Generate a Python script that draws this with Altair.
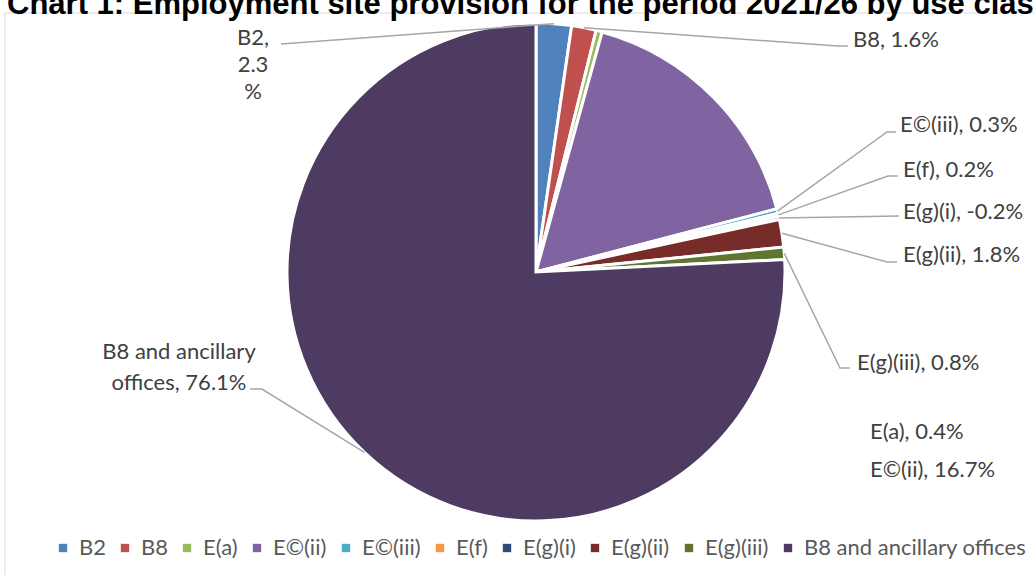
import math
import altair as alt
import pandas as pd

# ---------------- data ----------------
names = ["B2", "B8", "E(a)", "E©(ii)", "E©(iii)", "E(f)", "E(g)(i)",
         "E(g)(ii)", "E(g)(iii)", "B8 and ancillary offices"]
values = [2.3, 1.6, 0.4, 16.7, 0.3, 0.2, -0.2, 1.8, 0.8, 76.1]
colors = ["#4F81BD", "#C0504D", "#9BBB59", "#8064A2", "#4BACC6", "#F79646",
          "#2C4D75", "#772C2A", "#5F7530", "#4D3B62"]
title_text = "Chart 1: Employment site provision for the period 2021/26 by use class"

# ---------------- geometry / style ----------------
CX, CY, R = 536, 272, 249
LABEL_FONT = "Lato"
LABEL_SIZE = 22
LABEL_COLOR = "#404040"

# pie slices (size = absolute value, as the spreadsheet does)
sizes = [abs(v) for v in values]
total = sum(sizes)
starts, ends, c = [], [], 0.0
for s in sizes:
    starts.append(c)
    c += s
    ends.append(c)
pie = pd.DataFrame({"name": names, "value": values, "start": starts, "end": ends,
                    "idx": list(range(len(names)))})

# label placement (annotation layout, pixel positions)
layout = {
    "B2": dict(lines=lambda n, v: [f"{n},", f"{v}", "%"], x=253, y=38, dy=27,
               align="center", path=[(281, 44)]),
    "B8": dict(x=853, y=40, align="left", path=[(838, 46), (848, 46)]),
    "E(a)": dict(x=870, y=432, align="left", path=[]),
    "E©(ii)": dict(x=870, y=470, align="left", path=[]),
    "E©(iii)": dict(x=900, y=125, align="left", path=[(887, 132), (896, 132)]),
    "E(f)": dict(x=903, y=170, align="left", path=[(888, 176), (898, 176)]),
    "E(g)(i)": dict(x=903, y=212, align="left", path=[(899, 216)]),
    "E(g)(ii)": dict(x=903, y=255, align="left", path=[(887, 262), (897, 262)]),
    "E(g)(iii)": dict(x=857, y=363, align="left", path=[(840, 368), (850, 368)]),
    "B8 and ancillary offices": dict(lines=lambda n, v: ["B8 and ancillary", f"offices, {v}%"],
                                     x=179, y=352, dy=31, align="center",
                                     path=[(262, 389), (250, 389)]),
}

text_rows, line_rows = [], []
for n, v, s0, s1 in zip(names, values, starts, ends):
    L = layout[n]
    lines = L["lines"](n, v) if "lines" in L else [f"{n}, {v}%"]
    for i, t in enumerate(lines):
        text_rows.append({"name": n, "text": t, "x": L["x"],
                          "y": L["y"] + i * L.get("dy", 0), "align": L["align"]})
    if L["path"]:
        mid = (s0 + s1) / 2 / total * 2 * math.pi
        pts = [(CX + R * math.sin(mid), CY - R * math.cos(mid))] + L["path"]
        for k, (px, py) in enumerate(pts):
            line_rows.append({"name": n, "k": k, "x": px, "y": py})

texts = pd.DataFrame(text_rows)
leaders = pd.DataFrame(line_rows)

# ---------------- chart ----------------
color_scale = alt.Scale(domain=names, range=colors)

frame = alt.Chart(pd.DataFrame({"a": [0]})).mark_rect(
    fillOpacity=0, stroke="#D9D9D9", strokeWidth=1
).encode(x=alt.value(5), x2=alt.value(1200), y=alt.value(13), y2=alt.value(800))

arcs = alt.Chart(pie).mark_arc(outerRadius=R, stroke="white", strokeWidth=3).encode(
    theta=alt.Theta("start:Q", scale=alt.Scale(domain=[0, total], range=[0, 2 * math.pi])),
    theta2="end:Q",
    color=alt.Color("name:N", scale=color_scale, title=None,
                    legend=alt.Legend(orient="none", direction="horizontal",
                                      legendX=52, legendY=537, columns=10,
                                      symbolType="square", symbolSize=70,
                                      symbolStrokeWidth=0, labelFont=LABEL_FONT,
                                      labelFontSize=LABEL_SIZE, labelColor="#595959",
                                      labelOffset=5, columnPadding=8, labelLimit=400)),
    order=alt.Order("idx:Q"),
    x=alt.value(CX), y=alt.value(CY),
)

lines = alt.Chart(leaders).mark_line(color="#A6A6A6", strokeWidth=1.5).encode(
    x=alt.X("x:Q", scale=None), y=alt.Y("y:Q", scale=None),
    detail="name:N", order="k:Q",
)

def text_layer(align):
    return alt.Chart(texts).transform_filter(alt.datum.align == align).mark_text(
        align=align, baseline="middle", font=LABEL_FONT, fontSize=LABEL_SIZE,
        color=LABEL_COLOR
    ).encode(x=alt.X("x:Q", scale=None), y=alt.Y("y:Q", scale=None), text="text:N")

title = alt.Chart(pd.DataFrame({"t": [title_text]})).mark_text(
    align="left", baseline="alphabetic", font="Liberation Sans", fontWeight="bold",
    fontSize=31, color="black"
).encode(x=alt.value(7), y=alt.value(14), text="t:N")

chart = alt.layer(frame, arcs, lines, text_layer("left"), text_layer("center"), title).properties(
    width=1034, height=575, padding=0, autosize="none", background="white"
).configure_view(stroke=None)

chart.save("out.html", embed_options={"renderer": "svg", "actions": False})
